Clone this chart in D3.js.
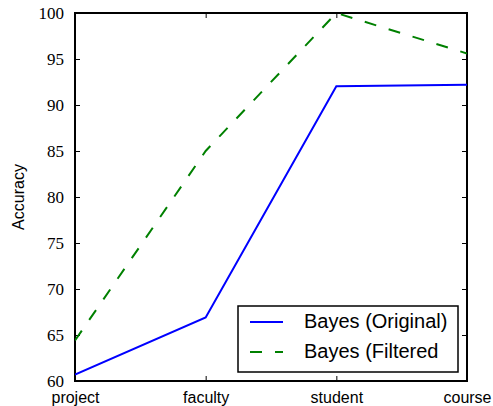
<!DOCTYPE html>
<html>
<head>
<meta charset="utf-8">
<script src="https://cdn.jsdelivr.net/npm/d3@7"></script>
<style>
  body { margin: 0; background: #fff; }
  svg { display: block; }
</style>
</head>
<body>
<div id="chart"></div>
<script>
const categories = ["project", "faculty", "student", "course"];
const bayesOriginal = [60.7, 66.9, 92.05, 92.2];
const bayesFiltered = [64.4, 85.0, 100.0, 95.6];
const yTicks = [60, 65, 70, 75, 80, 85, 90, 95, 100];
const seriesNames = ["Bayes (Original)", "Bayes (Filtered"];

const width = 493, height = 406;
const margin = {left: 75, right: 26, top: 13, bottom: 25};

const svg = d3.select("#chart").append("svg")
  .attr("width", width)
  .attr("height", height);

const x = d3.scalePoint()
  .domain(categories)
  .range([margin.left, width - margin.right]);
const y = d3.scaleLinear()
  .domain([60, 100])
  .range([height - margin.bottom, margin.top]);

const serif = "'Liberation Serif', 'DejaVu Serif', serif";
const sans = "'Liberation Sans', Arial, sans-serif";

// inward ticks, like matplotlib
const axLeft = svg.append("g")
  .attr("transform", "translate(" + margin.left + ",0)")
  .call(d3.axisLeft(y).tickValues(yTicks).tickSize(-5).tickPadding(11).tickFormat(d3.format("d")));
const axRight = svg.append("g")
  .attr("transform", "translate(" + (width - margin.right) + ",0)")
  .call(d3.axisRight(y).tickValues(yTicks).tickSize(-5).tickFormat(""));
const axBottom = svg.append("g")
  .attr("transform", "translate(0," + (height - margin.bottom) + ")")
  .call(d3.axisBottom(x).tickSize(-5).tickPadding(11));
const axTop = svg.append("g")
  .attr("transform", "translate(0," + margin.top + ")")
  .call(d3.axisTop(x).tickSize(-5).tickFormat(""));

[axLeft, axRight, axBottom, axTop].forEach((g) => {
  g.select(".domain").remove();
  g.selectAll(".tick line").attr("stroke", "#000").attr("stroke-width", 1);
});
axLeft.selectAll("text")
  .attr("font-family", null)
  .style("font-family", serif)
  .style("font-size", "17px")
  .attr("fill", "#000");
axBottom.selectAll("text")
  .style("font-family", sans)
  .style("font-size", "16px")
  .attr("fill", "#000");

// frame
svg.append("rect")
  .attr("x", margin.left)
  .attr("y", margin.top)
  .attr("width", width - margin.left - margin.right)
  .attr("height", height - margin.top - margin.bottom)
  .attr("fill", "none")
  .attr("stroke", "#000")
  .attr("stroke-width", 2);

svg.append("text")
  .attr("transform", "translate(24," + (margin.top + (height - margin.top - margin.bottom) / 2) + ") rotate(-90)")
  .attr("text-anchor", "middle")
  .style("font-family", sans)
  .style("font-size", "16px")
  .text("Accuracy");

const line = d3.line()
  .x((d, i) => x(categories[i]))
  .y((d) => y(d));

svg.append("clipPath").attr("id", "plotclip")
  .append("rect")
  .attr("x", margin.left).attr("y", margin.top - 2)
  .attr("width", width - margin.left - margin.right)
  .attr("height", height - margin.top - margin.bottom + 2);

svg.append("path")
  .datum(bayesOriginal)
  .attr("d", line)
  .attr("fill", "none")
  .attr("stroke", "#0000ff")
  .attr("stroke-width", 2)
  .attr("clip-path", "url(#plotclip)");
svg.append("path")
  .datum(bayesFiltered)
  .attr("d", line)
  .attr("fill", "none")
  .attr("stroke", "#008000")
  .attr("stroke-width", 2)
  .attr("stroke-dasharray", "12,13")
  .attr("clip-path", "url(#plotclip)");

// legend
const lg = svg.append("g").attr("transform", "translate(238,306)");
lg.append("rect")
  .attr("width", 220).attr("height", 66)
  .attr("fill", "#fff").attr("stroke", "#000").attr("stroke-width", 1.5);
const styles = [{c: "#0000ff", dash: null}, {c: "#008000", dash: "12,13"}];
seriesNames.forEach((name, i) => {
  const yy = 16 + i * 30;
  lg.append("line")
    .attr("x1", 12).attr("x2", 45).attr("y1", yy).attr("y2", yy)
    .attr("stroke", styles[i].c).attr("stroke-width", 2)
    .attr("stroke-dasharray", styles[i].dash);
  lg.append("text")
    .attr("x", 66).attr("y", yy + 6)
    .style("font-family", sans)
    .style("font-size", "20px")
    .text(name);
});
</script>
</body>
</html>
